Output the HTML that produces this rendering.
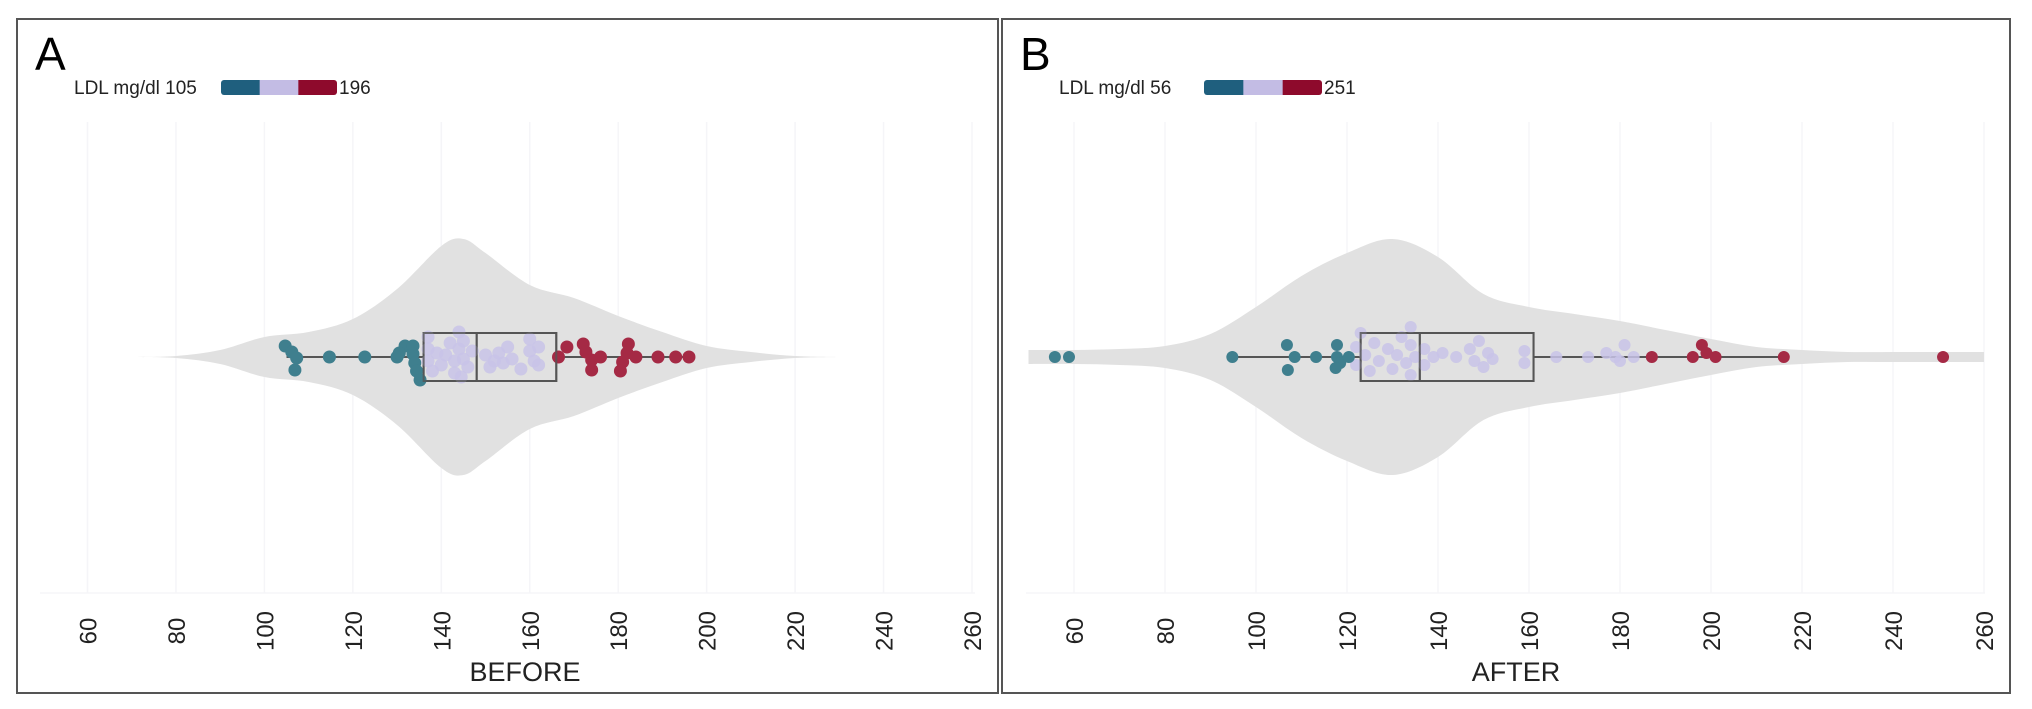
<!DOCTYPE html>
<html><head><meta charset="utf-8"><style>
html,body{margin:0;padding:0;background:#fff;}
svg{display:block;font-family:"Liberation Sans",sans-serif;}
</style></head><body>
<svg id="chart" width="2032" height="709" viewBox="0 0 2032 709" xmlns="http://www.w3.org/2000/svg">
<rect x="0" y="0" width="2032" height="709" fill="#fff"/>
<g id="pA"></g>
<g id="pB"></g>
</svg>
<script>
const ticks = [60,80,100,120,140,160,180,200,220,240,260];
// Panel A (BEFORE)
const aDensX = [70,80,90,100,110,120,130,140,145,150,160,170,180,190,200,210,220,230];
const aDensW = [0,1,7,20,25,38,68,111,118,104,72,59,41,25,11,5,1,0];
const aBox = [136,148,166]; const aWhisk = [105,196];
const aTealV = [104.7,106.2,107.3,106.9,114.7,122.7,130,131.8,133.6,133.6,134,134.4,135.2,130.5];
const aTealO = [-11,-5,1,13,0,0,0,-11,-11,-3,6,14,23,-4];
const aLavV = [137,137,137,138,139,140,141,142,143,143,144,144,144.5,145,145,146,147,150,151,153,154,155,156,158,160,160,161,162,162,152];
const aLavO = [-20,-8,4,14,-4,8,-2,-14,4,16,-25,-8,20,-16,2,10,-6,-2,10,-4,6,-10,2,12,-18,-6,4,-10,8,4];
const aRedV = [166.5,168.4,172.1,172.7,174,174,176,182.3,182,181,180.5,184,189,193,196];
const aRedO = [0,-10,-13,-5,3,13,0,-13,-4,5,14,0,0,0,0];
// Panel B (AFTER)
const bDensX = [50,60,70,80,90,100,110,120,130,140,150,160,170,180,190,200,210,220,230,240,250,260];
const bDensW = [7,7,8,11,23,50,81,104,118,100,63,50,43,36,27,18,10,7,5,5,5,5];
const bBox = [123,136,161]; const bWhisk = [95,216];
const bTealV = [55.8,58.9,94.8,106.8,108.5,107,113.2,117.8,117.8,118.5,120.4,117.5];
const bTealO = [0,0,0,-12,0,13,0,-12,0,6,0,11];
const bLavV = [122,122,123,124,125,126,127,129,130,131,132,133,134,134,134,135,137,137,139,141,144,147,148,149,150,151,152,159,159,166,173,177,179,181,183,180];
const bLavO = [-10,8,-24,-2,14,-14,4,-8,12,-2,-20,6,-30,-12,18,0,-8,8,0,-4,0,-8,4,-16,10,-4,2,-6,6,0,0,-4,0,-12,0,4];
const bRedV = [187,196,198,199,201,216,251];
const bRedO = [0,0,-12,-4,0,0,0];

const NS="http://www.w3.org/2000/svg";
function mk(parent,tag,attrs){const e=document.createElementNS(NS,tag);for(const k in attrs)e.setAttribute(k,attrs[k]);parent.appendChild(e);return e;}
function spline(pts,start){
  let d=start?'M'+pts[0][0]+','+pts[0][1]:'L'+pts[0][0]+','+pts[0][1];
  for(let i=0;i<pts.length-1;i++){
    const p0=pts[Math.max(0,i-1)],p1=pts[i],p2=pts[i+1],p3=pts[Math.min(pts.length-1,i+2)];
    const c1=[p1[0]+(p2[0]-p0[0])/6,p1[1]+(p2[1]-p0[1])/6];
    const c2=[p2[0]-(p3[0]-p1[0])/6,p2[1]-(p3[1]-p1[1])/6];
    d+='C'+c1[0]+','+c1[1]+' '+c2[0]+','+c2[1]+' '+p2[0]+','+p2[1];
  }
  return d;
}

function panel(g,cfg){
  const X=v=>cfg.x0+(v-60)*cfg.k;
  const cy=357;
  let f=mk(g,'rect',{x:cfg.fx,y:19,width:cfg.fw,height:674,fill:'none',stroke:'#555','stroke-width':2});
  
  
  ticks.forEach(t=>{const l=mk(g,'line',{x1:X(t),x2:X(t),y1:122,y2:593,stroke:'#f5f5f8','stroke-width':1.5});
    
    });
  mk(g,'line',{x1:cfg.gl,x2:cfg.gr,y1:593,y2:593,stroke:'#f5f5f8','stroke-width':1.5});
  const tp=[],bp=[];
  cfg.dx.forEach((v,i)=>{let x=Math.max(cfg.gl,Math.min(cfg.gr,X(v)));tp.push([x,cy-cfg.dw[i]]);});
  for(let i=cfg.dx.length-1;i>=0;i--){let x=Math.max(cfg.gl,Math.min(cfg.gr,X(cfg.dx[i])));bp.push([x,cy+cfg.dw[i]]);}
  const vp=mk(g,'path',{d:spline(tp,true)+spline(bp,false)+'Z',fill:'#e1e1e1'});
  
  
  mk(g,'line',{x1:X(cfg.wh[0]),x2:X(cfg.box[0]),y1:cy,y2:cy,stroke:'#555','stroke-width':2});
  mk(g,'line',{x1:X(cfg.box[2]),x2:X(cfg.wh[1]),y1:cy,y2:cy,stroke:'#555','stroke-width':2});
  const bx=mk(g,'rect',{x:X(cfg.box[0]),y:333,width:X(cfg.box[2])-X(cfg.box[0]),height:48,fill:'none',stroke:'#555','stroke-width':2});
  
  
  mk(g,'line',{x1:X(cfg.box[1]),x2:X(cfg.box[1]),y1:333,y2:381,stroke:'#555','stroke-width':2});
  const groups=[[cfg.lv,cfg.lo,'#c8c3e8',0.85],[cfg.tv,cfg.to,'#3f7f8e',1],[cfg.rv,cfg.ro,'#a52a45',1]];
  groups.forEach(([vs,os,c,op])=>vs.forEach((v,i)=>{const p=mk(g,'circle',{cx:X(v),cy:cy+os[i],r:cfg.r,fill:c,opacity:op});
    
    }));
  mk(g,'rect',{x:X(cfg.box[0]),y:333,width:X(cfg.box[2])-X(cfg.box[0]),height:48,fill:'none',stroke:'#555','stroke-width':2,opacity:0.8});
  mk(g,'line',{x1:X(cfg.box[1]),x2:X(cfg.box[1]),y1:333,y2:381,stroke:'#555','stroke-width':2,opacity:0.8});
  ticks.forEach(t=>{const tx=mk(g,'text',{x:0,y:0,transform:`translate(${X(t)+9},631) rotate(-90)`,'text-anchor':'middle','font-size':24,fill:'#222'});
    tx.textContent=t;
    
    });
  const at=mk(g,'text',{x:cfg.tx,y:681,'text-anchor':'middle','font-size':27,fill:'#222'});at.textContent=cfg.title;
  
  
  const pl=mk(g,'text',{x:cfg.fx+18,y:70,'font-size':46,fill:'#000'});pl.textContent=cfg.letter;
  
  
  const lg=mk(g,'g',{});
  
  
  const lt=mk(lg,'text',{x:cfg.fx+57,y:94,'font-size':19,fill:'#222'});lt.textContent='LDL mg/dl '+cfg.lmin;
  const bw=(cfg.lb1-cfg.lb0)/3;
  mk(lg,'rect',{x:cfg.lb0,y:80,width:bw+4,height:15,rx:3,fill:'#1f5f7e'});
  mk(lg,'rect',{x:cfg.lb0+2*bw-4,y:80,width:bw+4,height:15,rx:3,fill:'#8e0a2c'});
  mk(lg,'rect',{x:cfg.lb0+bw,y:80,width:bw,height:15,fill:'#c3bce4'});
  const lt2=mk(lg,'text',{x:cfg.lb1+2,y:94,'font-size':19,fill:'#222'});lt2.textContent=cfg.lmax;
}
panel(document.getElementById('pA'),{x0:87.5,k:4.4225,fx:17,fw:981,gl:40,gr:975,dx:aDensX,dw:aDensW,box:aBox,wh:aWhisk,
  tv:aTealV,to:aTealO,lv:aLavV,lo:aLavO,rv:aRedV,ro:aRedO,r:6.5,title:'BEFORE',tx:525,letter:'A',lmin:'105',lmax:'196',lb0:221,lb1:337});
panel(document.getElementById('pB'),{x0:1074,k:4.55,fx:1002,fw:1008,gl:1026,gr:1985,dx:bDensX,dw:bDensW,box:bBox,wh:bWhisk,
  tv:bTealV,to:bTealO,lv:bLavV,lo:bLavO,rv:bRedV,ro:bRedO,r:6,title:'AFTER',tx:1516,letter:'B',lmin:'56',lmax:'251',lb0:1204,lb1:1322});
</script>
</body></html>
